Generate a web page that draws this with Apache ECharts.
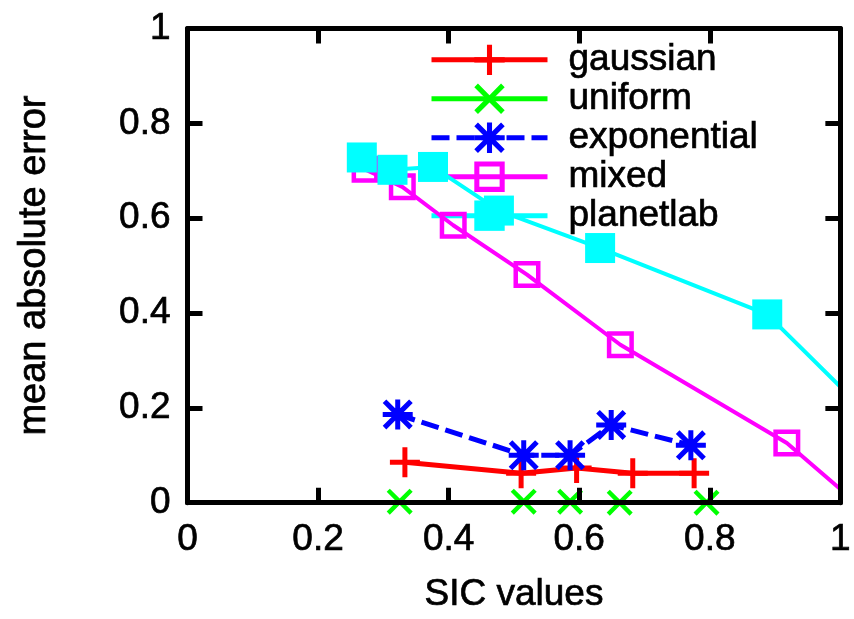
<!DOCTYPE html>
<html>
<head>
<meta charset="utf-8">
<script src="https://cdn.jsdelivr.net/npm/echarts@6/dist/echarts.min.js"></script>
<style>
  html, body { margin: 0; padding: 0; background: #ffffff; }
  #chart { width: 854px; height: 619px; }
</style>
</head>
<body>
<div id="chart"></div>
<script>
// Mean absolute error against SIC value, one series per distribution
const seriesNames = ['gaussian', 'uniform', 'exponential', 'mixed', 'planetlab'];

const gaussianX = [0.333, 0.511, 0.596, 0.682, 0.776];
const gaussianY = [0.085, 0.062, 0.073, 0.062, 0.062];

const uniformX = [0.325, 0.515, 0.586, 0.662, 0.795];
const uniformY = [0.002, 0.002, 0.002, 0.0, 0.0];

const exponentialX = [0.322, 0.515, 0.586, 0.649, 0.771];
const exponentialY = [0.186, 0.100, 0.100, 0.164, 0.121];

// the last point of these two lies past the right edge and is clipped
const mixedX = [0.272, 0.329, 0.407, 0.520, 0.663, 0.918, 1.1];
const mixedY = [0.703, 0.666, 0.585, 0.481, 0.333, 0.126, -0.09];

const planetlabX = [0.267, 0.314, 0.376, 0.477, 0.632, 0.888, 1.1];
const planetlabY = [0.728, 0.702, 0.708, 0.616, 0.537, 0.397, 0.108];

const xTickLabels = ['0', '0.2', '0.4', '0.6', '0.8', '1'];
const yTickLabels = ['0', '0.2', '0.4', '0.6', '0.8', '1'];

const xTitle = 'SIC values';
const yTitle = 'mean absolute error';

// gnuplot-like point shapes
const PLUS = 'path://M12.5,0H17.5V12.5H30V17.5H17.5V30H12.5V17.5H0V12.5H12.5Z';
const D = 3.6;
const CROSS = 'path://M0,' + D + 'L' + D + ',0L15,' + (15 - D) + 'L' + (30 - D) + ',0L30,' + D +
  'L' + (15 + D) + ',15L30,' + (30 - D) + 'L' + (30 - D) + ',30L15,' + (15 + D) + 'L' + D +
  ',30L0,' + (30 - D) + 'L' + (15 - D) + ',15Z';
const STAR = PLUS + ' ' + CROSS.slice(7);
const OPEN_SQUARE = 'path://M0,0H30V30H0Z M5,5V25H25V5Z';

const FONT = "'Liberation Sans', Arial, sans-serif";
const FS = 37;
// slightly heavier strokes for all text
const textBase = {
  fontFamily: FONT, fontSize: FS, color: '#000',
  textBorderColor: '#000', textBorderWidth: 0.7
};

function pairs(xs, ys) {
  return xs.map((x, i) => [x, ys[i]]);
}

function lineSeries(name, xs, ys, color, symbol, size, width, dash) {
  return {
    name: name,
    type: 'line',
    xAxisIndex: 0,
    yAxisIndex: 0,
    data: pairs(xs, ys),
    symbol: symbol,
    symbolSize: size,
    showAllSymbol: true,
    clip: true,
    itemStyle: { color: color },
    lineStyle: { color: color, width: width, type: dash || 'solid' },
    emphasis: { disabled: true },
    animation: false
  };
}

const tickStyle = { show: true, inside: true, length: 15, lineStyle: { color: '#000', width: 5 } };
const lineStyleAxis = { show: true, onZero: false, lineStyle: { color: '#000', width: 5 } };

const chart = echarts.init(document.getElementById('chart'), null, { renderer: 'canvas' });

chart.setOption({
  backgroundColor: '#ffffff',
  animation: false,
  grid: { left: 187.5, right: 11.5, top: 28.5, bottom: 113.5, show: false },
  legend: {
    orient: 'vertical',
    left: 429,
    top: 41,
    padding: 0,
    itemWidth: 116,
    itemHeight: 38,
    itemGap: 1.25,
    z: 1,
    selectedMode: false,
    data: seriesNames,
    lineStyle: { width: 5 },
    textStyle: Object.assign({}, textBase, { padding: [0, 0, 0, 16] })
  },
  xAxis: [
    {
      type: 'value', min: 0, max: 1, interval: 0.2, position: 'bottom', z: 10,
      axisLine: lineStyleAxis,
      axisTick: tickStyle,
      splitLine: { show: false },
      axisLabel: Object.assign({
        margin: 19, showMinLabel: true, showMaxLabel: true,
        formatter: v => xTickLabels[Math.round(v / 0.2)]
      }, textBase),
      name: xTitle, nameLocation: 'middle', nameGap: 74,
      nameTextStyle: textBase
    },
    {
      type: 'value', min: 0, max: 1, interval: 0.2, position: 'top', z: 10,
      axisLine: lineStyleAxis,
      axisTick: tickStyle,
      splitLine: { show: false },
      axisLabel: { show: false }
    }
  ],
  yAxis: [
    {
      type: 'value', min: 0, max: 1, interval: 0.2, position: 'left', z: 10,
      axisLine: lineStyleAxis,
      axisTick: tickStyle,
      splitLine: { show: false },
      axisLabel: Object.assign({
        margin: 17, showMinLabel: true, showMaxLabel: true,
        formatter: v => yTickLabels[Math.round(v / 0.2)]
      }, textBase),
      name: yTitle, nameLocation: 'middle', nameGap: 134,
      nameTextStyle: Object.assign({}, textBase, { fontSize: 38 })
    },
    {
      type: 'value', min: 0, max: 1, interval: 0.2, position: 'right', z: 10,
      axisLine: lineStyleAxis,
      axisTick: tickStyle,
      splitLine: { show: false },
      axisLabel: { show: false }
    }
  ],
  series: [
    lineSeries('gaussian', gaussianX, gaussianY, '#ff0000', PLUS, 30, 5),
    lineSeries('uniform', uniformX, uniformY, '#00ff00', CROSS, 26, 3),
    lineSeries('exponential', exponentialX, exponentialY, '#0000ff', STAR, 30, 5, [18, 7]),
    lineSeries('mixed', mixedX, mixedY, '#ff00ff', OPEN_SQUARE, 27, 4),
    lineSeries('planetlab', planetlabX, planetlabY, '#00ffff', 'rect', 30, 4)
  ]
});
</script>
</body>
</html>
